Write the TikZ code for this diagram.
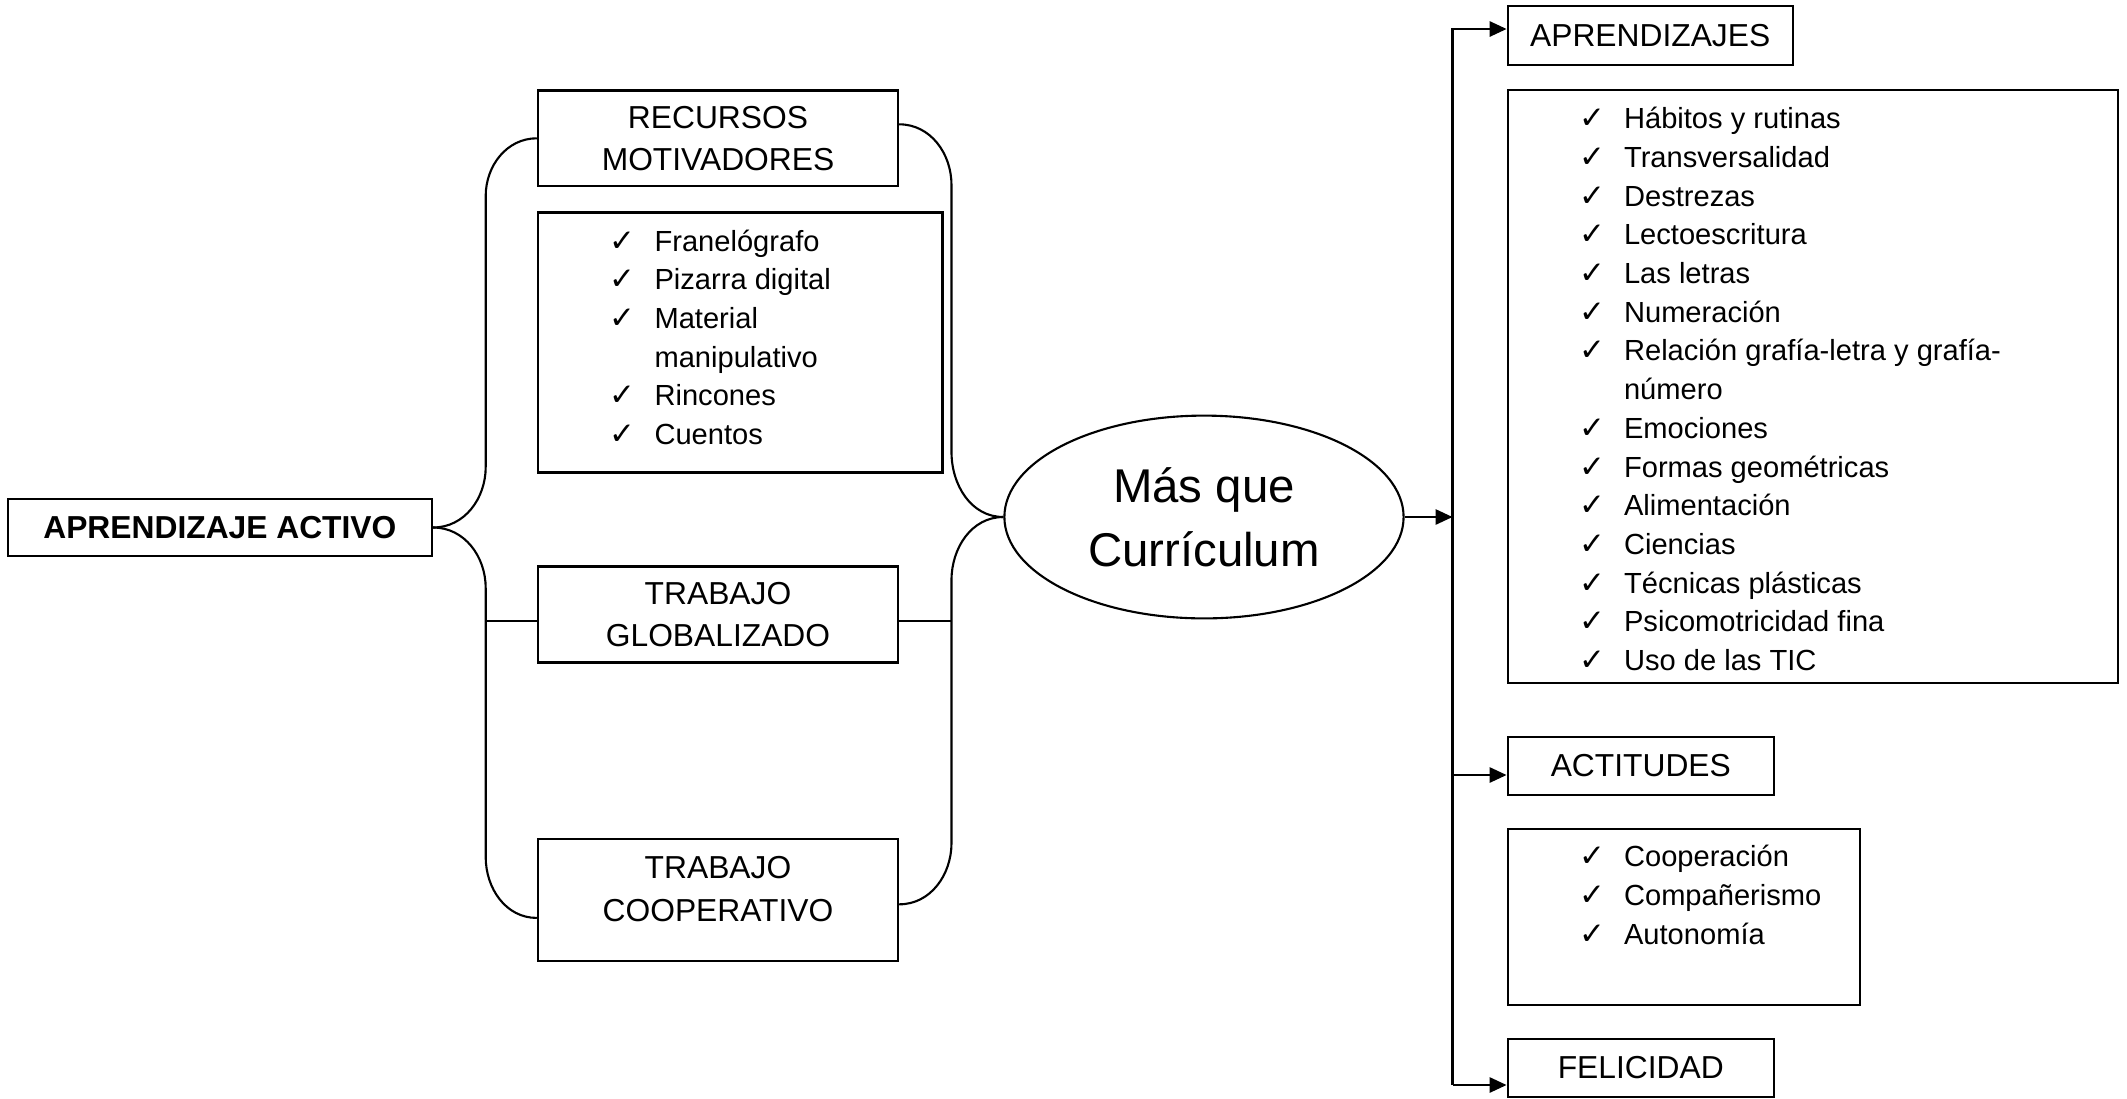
\documentclass[tikz,border=0pt]{standalone}
\usepackage{fontspec}
\setmainfont{Liberation Sans}
\newfontfamily\chkfont{DejaVu Sans}
\usetikzlibrary{shapes.geometric,arrows.meta}
\newcommand\chk{\makebox[16pt][l]{\chkfont\fontsize{11pt}{11pt}\selectfont ✓}}
\newcommand\nochk{\hspace*{16pt}}
\newcommand\itemlist[1]{\begin{tabular}[t]{@{}l@{}}#1\end{tabular}}
\begin{document}
\begin{tikzpicture}[x=0.125mm,y=-0.125mm,
  box/.style={draw, line width=0.75pt, inner sep=0pt, align=center},
  hdr/.style={box, font=\fontsize{11.3pt}{15.1pt}\selectfont},
  lst/.style={anchor=base west, inner sep=0pt, font=\fontsize{10.35pt}{13.77pt}\selectfont},
  link/.style={line width=0.75pt},
  arr/.style={link, -{Triangle[length=6pt,width=5.4pt]}}]
\useasboundingbox (0,0) rectangle (2127,1098);

% left part
\node[hdr, font=\fontsize{11.3pt}{15.1pt}\selectfont\bfseries, minimum width=53.04mm, minimum height=7.22mm] (aa) at (219.9,527.5) {APRENDIZAJE ACTIVO};
\node[hdr, minimum width=45.04mm, minimum height=11.96mm] (rm) at (718,138.3) {RECURSOS\\MOTIVADORES};
\node[box, minimum width=50.58mm, minimum height=32.5mm] (l1) at (740.2,342.5) {};
\node[lst] (l1t) at (609,251) {\itemlist{\chk Franelógrafo\\ \chk Pizarra digital\\ \chk Material\\ \nochk manipulativo\\ \chk Rincones\\ \chk Cuentos}};
\node[hdr, minimum width=45.04mm, minimum height=12mm] (tg) at (718,614.5) {TRABAJO\\GLOBALIZADO};
\node[box, minimum width=45.04mm, minimum height=15.25mm] (tc) at (718,899.6) {};
\node[inner sep=0pt, align=center, font=\fontsize{11.3pt}{15.1pt}\selectfont] (tct) at (718,889) {TRABAJO\\COOPERATIVO};

% centre
\node[box, ellipse, minimum width=49.9mm, minimum height=25.35mm, font=\fontsize{16.85pt}{22.9pt}\selectfont] (ell) at (1204,517) {Más que\\Currículum};

% right part
\node[hdr, minimum width=35.64mm, minimum height=7.36mm] (apr) at (1650.2,35.25) {APRENDIZAJES};
\node[box, minimum width=76.26mm, minimum height=74.1mm] (l2) at (1812.65,386.6) {};
\node[lst] (l2t) at (1578.5,128.6) {\itemlist{\chk Hábitos y rutinas\\ \chk Transversalidad\\ \chk Destrezas\\ \chk Lectoescritura\\ \chk Las letras\\ \chk Numeración\\ \chk Relación grafía-letra y grafía-\\ \nochk número\\ \chk Emociones\\ \chk Formas geométricas\\ \chk Alimentación\\ \chk Ciencias\\ \chk Técnicas plásticas\\ \chk Psicomotricidad fina\\ \chk Uso de las TIC}};
\node[hdr, minimum width=33.3mm, minimum height=7.29mm] (ac) at (1640.8,765.9) {ACTITUDES};
\node[box, minimum width=44.05mm, minimum height=22mm] (l3) at (1683.8,917) {};
\node[lst] (l3t) at (1578.5,866.7) {\itemlist{\chk Cooperación\\ \chk Compañerismo\\ \chk Autonomía}};
\node[hdr, minimum width=33.3mm, minimum height=7.21mm] (fe) at (1640.8,1067.9) {FELICIDAD};

% braces
\coordinate (lbar) at (485.7,0);
\coordinate (rbar) at (951.5,0);
\draw[link] (rm.west) to[out=180,in=90] (485.7,196) -- (485.7,467) to[out=270,in=0] (aa.east);
\draw[link] (aa.east) to[out=0,in=90] (485.7,588) -- (485.7,857) to[out=270,in=180] ([yshift=-2.29mm]tc.west);
\draw[link] ([yshift=-0.77mm]tg.west) -- ([yshift=-0.77mm]tg.west -| lbar);
\draw[link] ([yshift=1.75mm]rm.east) to[out=0,in=90] (951.5,185) -- (951.5,452) to[out=270,in=180] (ell.west);
\draw[link] (ell.west) to[out=180,in=90] (951.5,580) -- (951.5,843) to[out=270,in=0] ([yshift=-0.59mm]tc.east);
\draw[link] ([yshift=-0.77mm]tg.east) -- ([yshift=-0.77mm]tg.east -| rbar);

% right connectors
\coordinate (vtop) at (1452.5,29);
\coordinate (vact) at (1452.5,775);
\coordinate (vfel) at (1452.5,1085);
\draw[arr] (ell.east) -- (ell.east -| vtop);
\draw[arr] (vfel) -- (vtop) -- (vtop -| apr.west);
\draw[arr] (vact) -- (vact -| ac.west);
\draw[arr] (vfel) -- (vfel -| fe.west);
\end{tikzpicture}
\end{document}
